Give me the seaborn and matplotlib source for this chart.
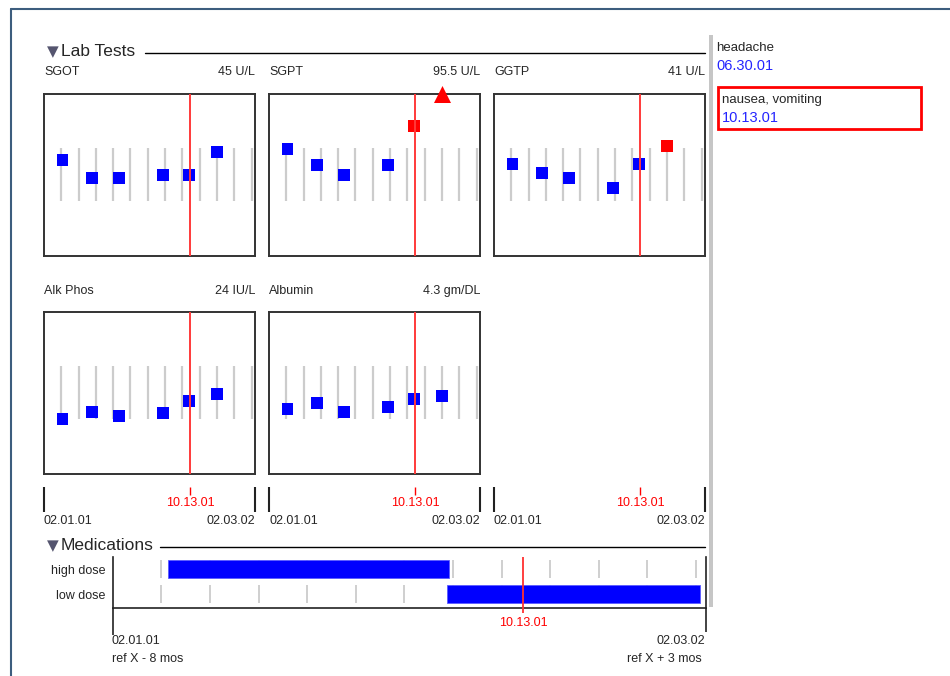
import matplotlib
matplotlib.use('Agg')
import matplotlib.pyplot as plt
from matplotlib.patches import Rectangle
import seaborn as sns
import pandas as pd
import numpy as np

sns.set_theme(style='white')
plt.rcParams['font.family'] = ['Liberation Sans', 'DejaVu Sans']

# ---------------- data ----------------
span_months = 12.2                       # 02.01.01 .. 02.03.02
start_label, end_label = '02.01.01', '02.03.02'
ref_label, ref_month = '10.13.01', 8.45
month_ticks = [1, 2, 3, 4, 5, 6, 7, 8, 9, 10, 11, 12]

test_names = ['SGOT', 'SGPT', 'GGTP', 'Alk Phos', 'Albumin']
test_latest = ['45 U/L', '95.5 U/L', '41 U/L', '24 IU/L', '4.3 gm/DL']
test_months = [1.07, 2.75, 4.35, 6.90, 8.37, 9.99]
sgot = [0.59, 0.48, 0.48, 0.50, 0.50, 0.64]
sgpt = [0.66, 0.56, 0.50, 0.56, 0.80, 1.25]   # last value off scale (high)
ggtp = [0.57, 0.51, 0.48, 0.42, 0.57, 0.68]
alk_phos = [0.34, 0.385, 0.36, 0.375, 0.45, 0.495]
albumin = [0.40, 0.44, 0.38, 0.415, 0.465, 0.48]
normal_lo, normal_hi = 0.34, 0.665

med_names = ['high dose', 'low dose']
med_start = [1.13, 6.88]
med_end = [6.92, 12.08]

event_names = ['headache', 'nausea, vomiting']
event_dates = ['06.30.01', '10.13.01']

# ---------------- layout ----------------
W, H = 950, 676
fig = plt.figure(figsize=(W / 100, H / 100), dpi=100)
fig.patch.set_facecolor('white')


def add_ax(l, t, r, b):
    return fig.add_axes([l / W, 1 - b / H, (r - l) / W, (b - t) / H])


bg = fig.add_axes([0, 0, 1, 1])
bg.set_xlim(0, W)
bg.set_ylim(H, 0)
bg.axis('off')

BLUE = '#0000ff'
RED = '#ff0000'
GRAY = '#cccccc'
TRI = '#55556f'

# outer frame
bg.plot([11, 11], [H, 8.5], color='#3d5d7e', lw=1.5)
bg.plot([11, W], [8.5, 8.5], color='#3d5d7e', lw=1.5)

# section headers
bg.text(53, 52, '\u25BC', color=TRI, fontsize=11, ha='center', va='center',
        family=['DejaVu Sans'])
bg.text(61, 52, 'Lab Tests', fontsize=12.5, ha='left', va='center')
bg.plot([145, 705], [52.5, 52.5], color='black', lw=1)
bg.text(53, 546, '\u25BC', color=TRI, fontsize=11, ha='center', va='center',
        family=['DejaVu Sans'])
bg.text(61, 546, 'Medications', fontsize=12.5, ha='left', va='center')
bg.plot([160, 705], [546.5, 546.5], color='black', lw=1)

cols = [(44, 255), (269, 480), (494, 705)]
rows = [(94, 256), (312, 474)]
title_y = [72, 291]
series = [sgot, sgpt, ggtp, alk_phos, albumin]
pal = {'normal': BLUE, 'high': RED}

for i, (name, unit, vals) in enumerate(zip(test_names, test_latest, series)):
    r_i, c_i = divmod(i, 3)
    l, r = cols[c_i]
    t, b = rows[r_i]
    ax = add_ax(l, t, r, b)
    ax.set_xlim(0, span_months)
    ax.set_ylim(0, 1)
    ax.vlines(month_ticks, normal_lo, normal_hi, color=GRAY, lw=1.6, zorder=1)
    df = pd.DataFrame({'month': test_months, 'value': vals})
    df['status'] = np.where(df['value'] > normal_hi, 'high', 'normal')
    on = df[df['value'] <= 1]
    off = df[df['value'] > 1].assign(value=1.0)
    sns.scatterplot(data=on, x='month', y='value', hue='status', palette=pal,
                    hue_order=['normal', 'high'], marker='s', s=74,
                    linewidth=0, legend=False, ax=ax, zorder=3)
    if len(off):
        sns.scatterplot(data=off, x='month', y='value', color=RED, marker='^',
                        s=150, linewidth=0, legend=False, ax=ax, zorder=6,
                        clip_on=False)
    ax.axvline(ref_month, color='#ff3a3a', lw=1.4, zorder=4)
    ax.set_xticks([])
    ax.set_yticks([])
    ax.set_xlabel('')
    ax.set_ylabel('')
    for sp in ax.spines.values():
        sp.set_visible(True)
        sp.set_color('#333333')
        sp.set_linewidth(1.4)
    bg.text(l, title_y[r_i], name, fontsize=9, ha='left', va='center')
    bg.text(r, title_y[r_i], unit, fontsize=9, ha='right', va='center')

# time axes under the panel columns
for l, r in cols:
    tax = add_ax(l, 487, r, 512)
    tax.set_xlim(0, span_months)
    tax.set_ylim(0, 1)
    tax.axis('off')
    tax.vlines([0, span_months], 0, 1, color='#222222', lw=1.5, clip_on=False)
    tax.vlines([ref_month], 0.68, 1, color=RED, lw=1, clip_on=False)
    tax.text(ref_month, 0.36, ref_label, color=RED, fontsize=9,
             ha='center', va='center')
    bg.text(l, 521, start_label, fontsize=9, ha='left', va='center')
    bg.text(r, 521, end_label, fontsize=9, ha='right', va='center')

# medications
mx = add_ax(112.7, 557, 705.7, 607.7)
mx.set_xlim(0, span_months)
mx.set_ylim(1.54, -0.488)
for yi in range(len(med_names)):
    mx.vlines(month_ticks, yi - 0.37, yi + 0.37, color=GRAY, lw=1.3, zorder=1)
widths = [e - s for s, e in zip(med_start, med_end)]
mx.barh(range(len(med_names)), widths, left=med_start, height=0.73,
        color=BLUE, edgecolor='#5a5aff', linewidth=0.6, zorder=2)
mx.vlines([ref_month], -0.488, 1.75, color='#ff3030', lw=1.3, zorder=4,
          clip_on=False)
mx.text(ref_month, 2.16, ref_label, color=RED, fontsize=9, ha='center',
        va='center')
mx.vlines([0], 1.54, 2.62, color='#222222', lw=1.2, clip_on=False)
mx.vlines([span_months], 1.54, 2.52, color='#222222', lw=1.2, clip_on=False)
mx.set_xticks([])
mx.set_yticks(range(len(med_names)))
mx.set_yticklabels(med_names, fontsize=9)
mx.tick_params(axis='y', length=0, pad=5)
mx.spines['top'].set_visible(False)
for s in ['left', 'right', 'bottom']:
    mx.spines[s].set_visible(True)
    mx.spines[s].set_color('#222222')
    mx.spines[s].set_linewidth(1.2)
bg.text(112, 641.5, start_label, fontsize=9, ha='left', va='center')
bg.text(112, 659, 'ref X - 8 mos', fontsize=9, ha='left', va='center')
bg.text(705.5, 641.5, end_label, fontsize=9, ha='right', va='center')
bg.text(702, 659, 'ref X + 3 mos', fontsize=9, ha='right', va='center')

# right side: separator and events
bg.add_patch(Rectangle((708.5, 35), 4, 572, color='#c6c6c6', lw=0))
bg.text(716, 48, event_names[0], fontsize=9.5, ha='left', va='center')
bg.text(716, 66.5, event_dates[0], fontsize=10.5, color='#2424ff',
        ha='left', va='center')
bg.add_patch(Rectangle((717.5, 87), 203.5, 42, fill=False, ec=RED, lw=2))
bg.text(722, 100, event_names[1], fontsize=9.5, ha='left', va='center')
bg.text(722, 117.5, event_dates[1], fontsize=10.5, color='#2424ff',
        ha='left', va='center')

fig.savefig('out.png', dpi=100)
